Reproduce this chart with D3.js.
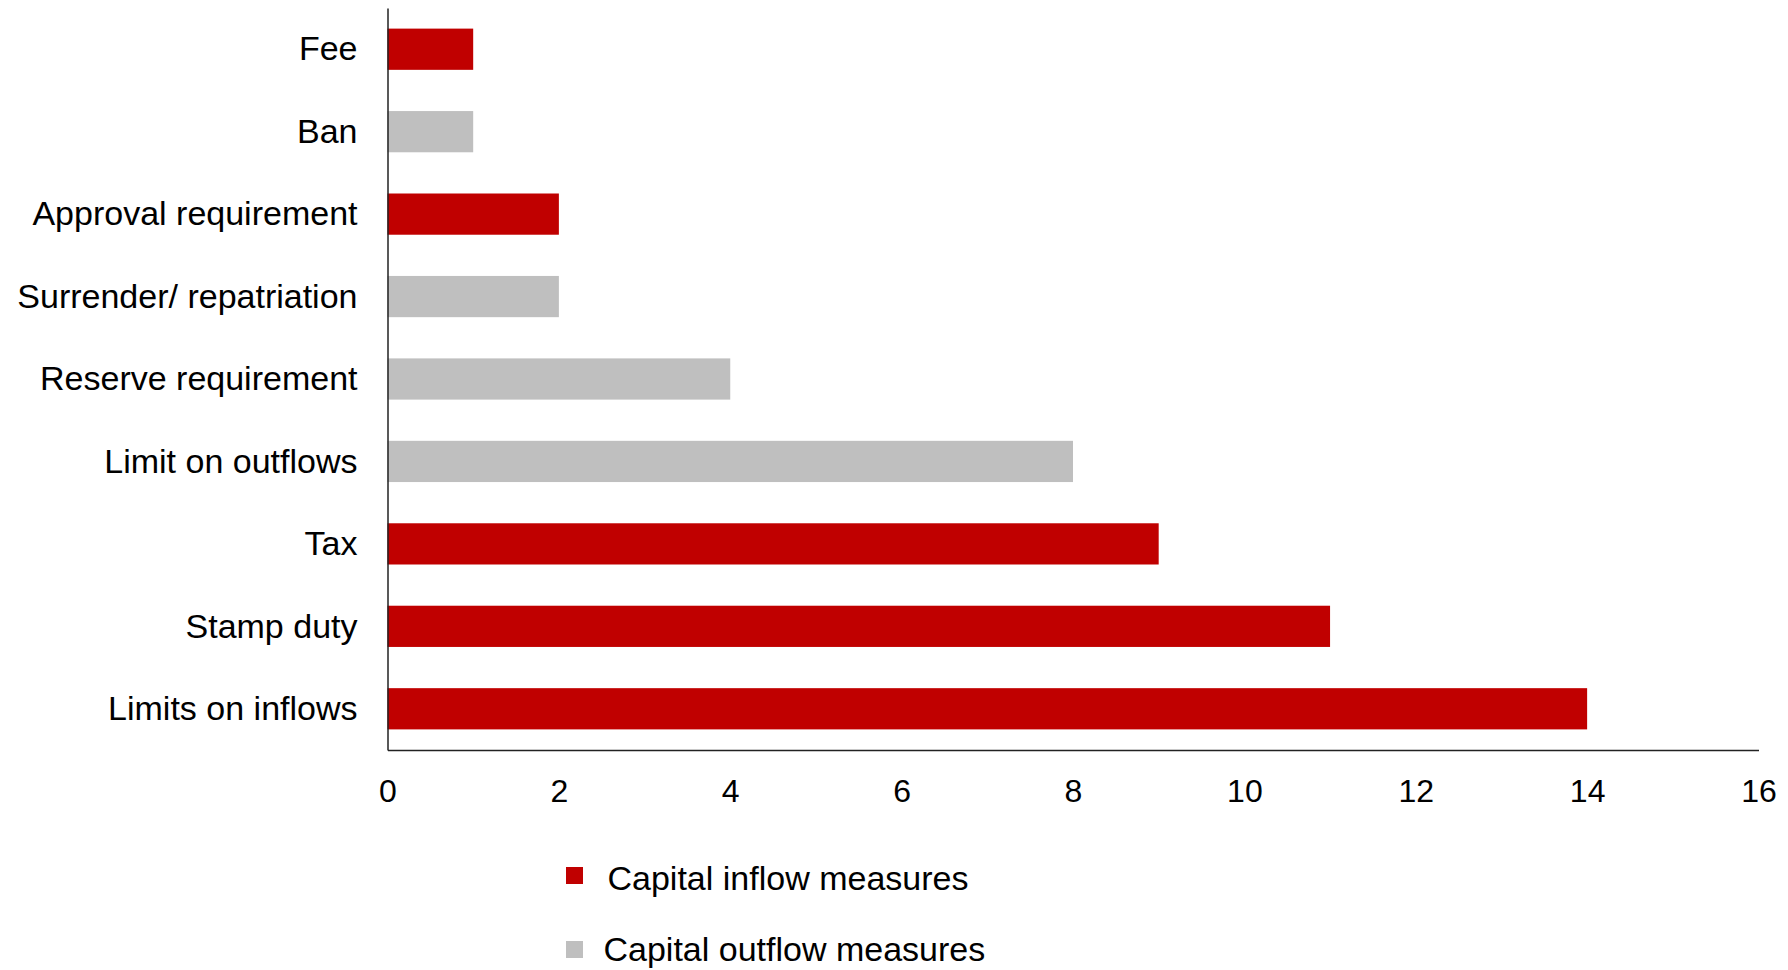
<!DOCTYPE html>
<html>
<head>
<meta charset="utf-8">
<script src="https://cdn.jsdelivr.net/npm/d3@7"></script>
<style>
  html, body { margin: 0; padding: 0; background: #fff; }
  svg { display: block; font-family: "Liberation Sans", Arial, sans-serif; }
</style>
</head>
<body>
<svg id="chart" width="1788" height="970"></svg>
<script>
const categories = ["Fee", "Ban", "Approval requirement", "Surrender/ repatriation", "Reserve requirement", "Limit on outflows", "Tax", "Stamp duty", "Limits on inflows"];
const values = [1, 1, 2, 2, 4, 8, 9, 11, 14];
const seriesType = ["inflow", "outflow", "inflow", "outflow", "outflow", "outflow", "inflow", "inflow", "inflow"];
const xTicks = [0, 2, 4, 6, 8, 10, 12, 14, 16];
const legendLabels = ["Capital inflow measures", "Capital outflow measures"];
const legendKeys = ["inflow", "outflow"];

(function () {
const colors = { inflow: "#C00000", outflow: "#BFBFBF" };

const svg = d3.select("#chart");
const mLeft = 387.5, mRight = 1758.5, mTop = 8, mBottom = 750;

const x = d3.scaleLinear().domain([0, 16]).range([mLeft, mRight]);
const y = d3.scaleBand().domain(categories).range([mTop, mBottom]).paddingInner(0.5).paddingOuter(0.25);

// bars
svg.append("g").selectAll("rect")
  .data(categories)
  .join("rect")
  .attr("x", x(0))
  .attr("y", d => y(d))
  .attr("width", (d, i) => x(values[i]) - x(0))
  .attr("height", y.bandwidth())
  .attr("fill", (d, i) => colors[seriesType[i]]);

// x axis
const xAxis = svg.append("g")
  .attr("transform", `translate(0,${mBottom})`)
  .call(d3.axisBottom(x).tickValues(xTicks).tickSize(0).tickPadding(29).tickFormat(d3.format("d")));
xAxis.select(".domain").attr("stroke", "#222").attr("stroke-width", 1.5);
xAxis.selectAll("text").attr("font-size", 32).attr("fill", "#000").attr("font-family", "'Liberation Sans', Arial, sans-serif");

// y axis
const yAxis = svg.append("g")
  .attr("transform", `translate(${mLeft},0)`)
  .call(d3.axisLeft(y).tickSize(0).tickPadding(30));
yAxis.select(".domain").attr("stroke", "#222").attr("stroke-width", 1.5);
yAxis.selectAll("text").attr("font-size", 34).attr("fill", "#000").attr("font-family", "'Liberation Sans', Arial, sans-serif").attr("dy", "0.33em");

// legend
const legend = svg.append("g");
const squareY = [867, 941];
const textX = [607.5, 603.5];
const textBase = [890, 961];
legendKeys.forEach((k, i) => {
  legend.append("rect")
    .attr("x", 566).attr("y", squareY[i])
    .attr("width", 17).attr("height", 17)
    .attr("fill", colors[k]);
  legend.append("text")
    .attr("x", textX[i])
    .attr("y", textBase[i])
    .attr("font-size", 34)
    .attr("fill", "#000")
    .text(legendLabels[i]);
});
})();
</script>
</body>
</html>
